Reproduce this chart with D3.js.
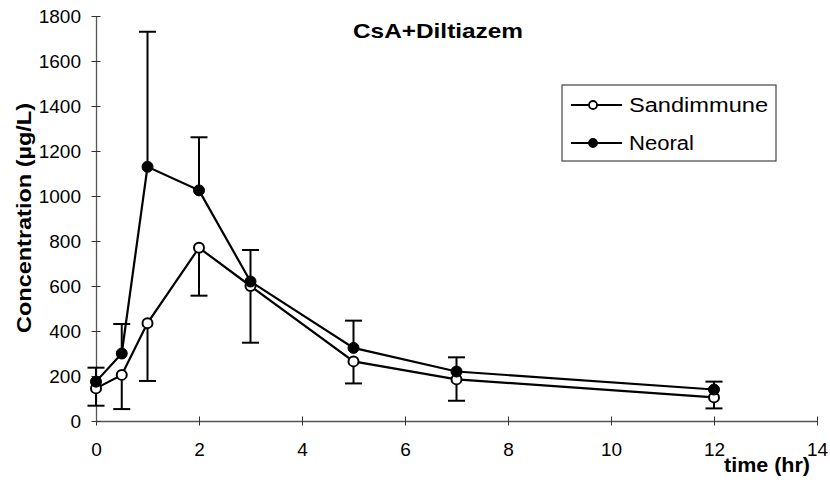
<!DOCTYPE html>
<html>
<head>
<meta charset="utf-8">
<script src="https://cdn.jsdelivr.net/npm/d3@7"></script>
<style>
  html, body { margin: 0; padding: 0; background: #fff; }
  svg { display: block; }
  text { font-family: Arial, "Liberation Sans", sans-serif; fill: #000; }
</style>
</head>
<body>
<script>
// ---- Data ----
const times = [0, 0.5, 1, 2, 3, 5, 7, 12];
const sandimmune = [145, 205, 435, 770, 600, 265, 185, 105];
const sandimmuneErrMinus = [77, 152, 257, 213, 252, 98, 95, 49];
const neoral = [175, 300, 1130, 1025, 620, 325, 220, 140];
const neoralErrPlus = [62, 131, 600, 236, 140, 121, 63, 35];
const xTicks = [0, 2, 4, 6, 8, 10, 12, 14];
const yTicks = [0, 200, 400, 600, 800, 1000, 1200, 1400, 1600, 1800];
const seriesNames = ["Sandimmune", "Neoral"];
const titleText = "CsA+Diltiazem";
const xTitle = "time (hr)";
const yTitle = "Concentration (µg/L)";

const W = 830, H = 489;
const svg = d3.select("body").append("svg").attr("width", W).attr("height", H);

const x = d3.scaleLinear().domain([0, 14]).range([96, 817]);
const y = d3.scaleLinear().domain([0, 1800]).range([421, 16]);

// Axes
const axisColor = "#555";
const xAxis = svg.append("g").attr("transform", `translate(0,${y(0)})`)
  .call(d3.axisBottom(x).tickValues(xTicks).tickSize(4.5).tickSizeOuter(0).tickFormat(d3.format("d")));
xAxis.select(".domain").attr("stroke", axisColor).attr("stroke-width", 1.3);
xAxis.selectAll(".tick line").attr("stroke", "#333").attr("y1", -4.5).attr("y2", 4.5);
xAxis.selectAll(".tick text").attr("font-size", 19).attr("y", 22).attr("dy", "0.71em")
  .attr("font-family", "Arial, 'Liberation Sans', sans-serif").attr("fill", "#000");

const yAxis = svg.append("g").attr("transform", `translate(${x(0)},0)`)
  .call(d3.axisLeft(y).tickValues(yTicks).tickSize(4.5).tickSizeOuter(0).tickFormat(d3.format("d")));
yAxis.select(".domain").attr("stroke", axisColor).attr("stroke-width", 1.3);
yAxis.selectAll(".tick line").attr("stroke", "#333").attr("x1", -4.5).attr("x2", 4.5);
yAxis.selectAll(".tick text").attr("font-size", 19).attr("x", -15).attr("dy", "0.34em")
  .attr("font-family", "Arial, 'Liberation Sans', sans-serif").attr("fill", "#000");

// Error bars
const cap = 8.5;
function errBar(g, xv, y0, y1) {
  g.append("line").attr("x1", x(xv)).attr("x2", x(xv)).attr("y1", y(y0)).attr("y2", y(y1))
    .attr("stroke", "#000").attr("stroke-width", 2);
  g.append("line").attr("x1", x(xv) - cap).attr("x2", x(xv) + cap).attr("y1", y(y1)).attr("y2", y(y1))
    .attr("stroke", "#000").attr("stroke-width", 2);
}
const eg = svg.append("g");
times.forEach((t, i) => {
  errBar(eg, t, neoral[i], neoral[i] + neoralErrPlus[i]);
  errBar(eg, t, sandimmune[i], sandimmune[i] - sandimmuneErrMinus[i]);
});

// Lines
const line = d3.line().x(d => x(d[0])).y(d => y(d[1]));
const sData = times.map((t, i) => [t, sandimmune[i]]);
const nData = times.map((t, i) => [t, neoral[i]]);
svg.append("path").datum(sData).attr("d", line).attr("fill", "none").attr("stroke", "#000").attr("stroke-width", 2.2);
svg.append("path").datum(nData).attr("d", line).attr("fill", "none").attr("stroke", "#000").attr("stroke-width", 2.2);

// Markers
svg.append("g").selectAll("circle").data(sData).join("circle")
  .attr("cx", d => x(d[0])).attr("cy", d => y(d[1])).attr("r", 5)
  .attr("fill", "#fff").attr("stroke", "#000").attr("stroke-width", 2);
svg.append("g").selectAll("circle").data(nData).join("circle")
  .attr("cx", d => x(d[0])).attr("cy", d => y(d[1])).attr("r", 5.5)
  .attr("fill", "#000").attr("stroke", "#000").attr("stroke-width", 1);

// Title
svg.append("text").attr("x", 438).attr("y", 38).attr("text-anchor", "middle")
  .attr("font-size", 21).attr("font-weight", "bold")
  .attr("textLength", 170).attr("lengthAdjust", "spacingAndGlyphs").text(titleText);

// Axis titles
svg.append("text").attr("x", 724).attr("y", 472)
  .attr("font-size", 20).attr("font-weight", "bold")
  .attr("textLength", 86).attr("lengthAdjust", "spacingAndGlyphs").text(xTitle);
svg.append("text").attr("transform", "translate(31,218) rotate(-90)").attr("text-anchor", "middle")
  .attr("font-size", 20).attr("font-weight", "bold")
  .attr("textLength", 230).attr("lengthAdjust", "spacingAndGlyphs").text(yTitle);

// Legend
const lg = svg.append("g");
lg.append("rect").attr("x", 562).attr("y", 85).attr("width", 214).attr("height", 76)
  .attr("fill", "#fff").attr("stroke", "#444").attr("stroke-width", 1.2);
const legY = [105, 143];
seriesNames.forEach((name, i) => {
  lg.append("line").attr("x1", 571).attr("x2", 622).attr("y1", legY[i]).attr("y2", legY[i])
    .attr("stroke", "#000").attr("stroke-width", 2);
  lg.append("circle").attr("cx", 593).attr("cy", legY[i]).attr("r", 4)
    .attr("fill", i === 0 ? "#fff" : "#000").attr("stroke", "#000").attr("stroke-width", 1.8);
  lg.append("text").attr("x", 629).attr("y", legY[i] + 7).attr("font-size", 20)
    .attr("textLength", i === 0 ? 139 : 65).attr("lengthAdjust", "spacingAndGlyphs").text(name);
});
</script>
</body>
</html>
